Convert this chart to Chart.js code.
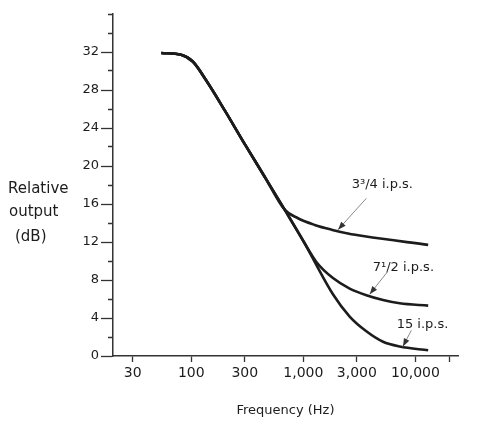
<!DOCTYPE html>
<html>
<head>
<meta charset="utf-8">
<script src="https://cdn.jsdelivr.net/npm/chart.js@4.4.1/dist/chart.umd.min.js"></script>
<style>
  body { margin: 0; background: #fff; }
  #wrap { width: 485px; height: 426px; }
</style>
</head>
<body>
<div id="wrap"><canvas id="chart" width="485" height="426"></canvas></div>
<script>
// low end common to all three tape speeds
const sharedFreq = [54, 81, 103, 136, 200, 300, 450, 681];
const sharedDb = [31.9, 31.7, 31.0, 29.0, 25.8, 22.3, 18.9, 15.4];

// where each curve leaves the common slope
const ips375Freq = [895, 1262, 1778, 2500, 3520, 13000];
const ips375Db = [14.5, 13.8, 13.3, 12.9, 12.6, 11.7];
const ips75Freq = [1000, 1306, 1837, 2590, 3650, 5140, 7240, 13000];
const ips75Db = [12.1, 9.9, 8.2, 7.1, 6.4, 5.9, 5.55, 5.3];
const ips15Freq = [1000, 1837, 2590, 3650, 5140, 7240, 13000];
const ips15Db = [12.1, 6.5, 4.15, 2.6, 1.5, 1.0, 0.6];

const xTicks = [30, 100, 300, 1000, 3000, 10000, 20000];
const xTickLabels = ['30', '100', '300', '1,000', '3,000', '10,000', ''];
const yLabelEvery = 4;
const yLabelMax = 32;

// label text, label anchor, arrow tail, arrow head (freq, dB)
const notes = [
  { text: '3\u00b3/4 i.p.s.', at: [2700, 18.0], from: [3650, 16.6], to: [2040, 13.3] },
  { text: '7\u00b9/2 i.p.s.', at: [4160, 9.3], from: [5660, 8.9], to: [3910, 6.5] },
  { text: '15 i.p.s.', at: [6800, 3.3], from: [9200, 2.7], to: [7740, 1.0] }
];

const ink = '#1c1c1c';

function pts(fa, da) {
  return fa.map((f, i) => ({ x: f, y: da[i] }));
}
function curve(bf, bd) {
  return {
    data: pts(sharedFreq.concat(bf), sharedDb.concat(bd)),
    borderColor: ink,
    borderWidth: 2.6,
    pointRadius: 0,
    fill: false,
    cubicInterpolationMode: 'monotone'
  };
}

const extras = {
  id: 'extras',
  afterDraw(chart) {
    const ctx = chart.ctx;
    const xs = chart.scales.x, ys = chart.scales.y;
    ctx.save();
    ctx.fillStyle = ink;
    ctx.textBaseline = 'middle';
    ctx.textAlign = 'left';
    ctx.font = '15px "DejaVu Sans"';
    ctx.fillText('Relative', 8, 189);
    ctx.fillText('output', 9, 212);
    ctx.fillText('(dB)', 15, 237);

    ctx.font = '13px "DejaVu Sans"';
    notes.forEach(n => {
      ctx.fillStyle = ink;
      ctx.fillText(n.text, xs.getPixelForValue(n.at[0]), ys.getPixelForValue(n.at[1]));
      const x1 = xs.getPixelForValue(n.from[0]), y1 = ys.getPixelForValue(n.from[1]);
      const x2 = xs.getPixelForValue(n.to[0]), y2 = ys.getPixelForValue(n.to[1]);
      const a = Math.atan2(y2 - y1, x2 - x1);
      ctx.strokeStyle = '#8a8a8a';
      ctx.lineWidth = 1;
      ctx.beginPath();
      ctx.moveTo(x1, y1);
      ctx.lineTo(x2, y2);
      ctx.stroke();
      ctx.fillStyle = '#333';
      ctx.beginPath();
      ctx.moveTo(x2, y2);
      ctx.lineTo(x2 - 8 * Math.cos(a) + 3 * Math.sin(a), y2 - 8 * Math.sin(a) - 3 * Math.cos(a));
      ctx.lineTo(x2 - 8 * Math.cos(a) - 3 * Math.sin(a), y2 - 8 * Math.sin(a) + 3 * Math.cos(a));
      ctx.closePath();
      ctx.fill();
    });
    ctx.restore();
  }
};

new Chart(document.getElementById('chart'), {
  type: 'line',
  data: {
    datasets: [
      curve(ips375Freq, ips375Db),
      curve(ips75Freq, ips75Db),
      curve(ips15Freq, ips15Db)
    ]
  },
  options: {
    responsive: false,
    animation: false,
    layout: { padding: { left: 0, right: 27, top: 14, bottom: 0 } },
    plugins: { legend: { display: false }, tooltip: { enabled: false } },
    scales: {
      x: {
        type: 'logarithmic',
        min: 20,
        max: 24000,
        afterBuildTicks: s => { s.ticks = xTicks.map(v => ({ value: v })); },
        afterFit: s => { s.height = 70; },
        border: { display: true, color: '#333', width: 1.5 },
        grid: { drawOnChartArea: false, drawTicks: true, tickLength: 6, tickColor: '#333', tickWidth: 1.3 },
        ticks: {
          autoSkip: false,
          maxRotation: 0,
          padding: 3,
          color: ink,
          font: { family: 'DejaVu Sans', size: 14 },
          callback: v => { const i = xTicks.indexOf(v); return i < 0 ? '' : xTickLabels[i]; }
        },
        title: {
          display: true,
          text: 'Frequency (Hz)',
          color: ink,
          font: { family: 'DejaVu Sans', size: 13 },
          padding: { top: 0, bottom: 8 }
        }
      },
      y: {
        min: 0,
        max: 36,
        afterFit: s => { s.width = 113; },
        border: { display: true, color: '#333', width: 1.5 },
        grid: {
          drawOnChartArea: false,
          drawTicks: true,
          tickLength: 12,
          tickColor: '#333',
          tickWidth: 1.3,
          tickBorderDash: c => (c.tick && c.tick.value % yLabelEvery === 0 && c.tick.value <= yLabelMax) ? [] : [0, 7, 12]
        },
        ticks: {
          stepSize: 2,
          autoSkip: false,
          padding: 2,
          color: ink,
          font: { family: 'DejaVu Sans', size: 13 },
          callback: v => (v % yLabelEvery === 0 && v <= yLabelMax) ? String(v) : ''
        }
      }
    }
  },
  plugins: [extras]
});
</script>
</body>
</html>
